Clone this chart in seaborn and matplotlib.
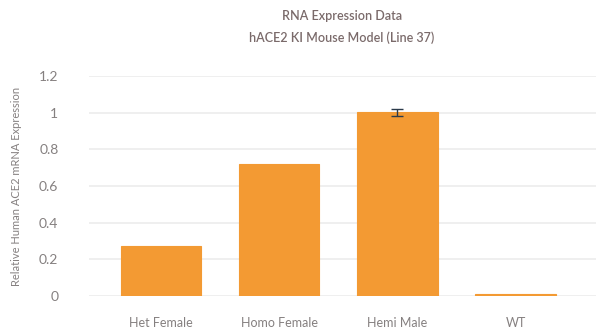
import matplotlib
matplotlib.use("Agg")
import matplotlib.pyplot as plt
import seaborn as sns
import pandas as pd

groups = ["Het Female", "Homo Female", "Hemi Male", "WT"]
expression = [0.273, 0.72, 1.003, 0.01]
error = [0.0, 0.0, 0.019, 0.0]
yticks = [0, 0.2, 0.4, 0.6, 0.8, 1.0, 1.2]
ytick_labels = ["0", "0.2", "0.4", "0.6", "0.8", "1", "1.2"]

sns.set_theme(style="white")
plt.rcParams["font.family"] = ["Lato", "DejaVu Sans"]

bar_color = "#F39A33"
text_color = "#858080"
title_color = "#7a6a6a"

df = pd.DataFrame({"group": groups, "value": expression})

fig = plt.figure(figsize=(5.97, 3.29), dpi=100)
ax = fig.add_axes([89 / 597, 33 / 329, 507 / 597, 220 / 329])

sns.barplot(data=df, x="group", y="value", color=bar_color, width=0.68,
            saturation=1, ax=ax, errorbar=None)
# outline each bar in its own colour so the near-zero WT bar stays visible
for patch in ax.patches:
    patch.set_edgecolor(bar_color)
    patch.set_linewidth(0.8)
    patch.set_zorder(3)

ax.errorbar(range(len(groups)), expression,
            yerr=[e if e > 0 else float("nan") for e in error],
            fmt="none", ecolor="#2b3a4a", elinewidth=1, capsize=4,
            capthick=1, zorder=4)

ax.set_xlim(-0.61, 3.68)
ax.set_ylim(0, 1.2)
ax.set_yticks(yticks)
ax.set_yticklabels(ytick_labels)
ax.yaxis.grid(True, color="#ececec", linewidth=1.2, zorder=0)
ax.set_axisbelow(True)
for s in ax.spines.values():
    s.set_visible(False)

ax.tick_params(axis="y", length=0, pad=22, labelsize=10, labelcolor=text_color)
ax.tick_params(axis="x", length=0, pad=15, labelsize=9, labelcolor=text_color)
ax.set_xlabel("")
ax.set_ylabel("Relative Human ACE2 mRNA Expression", fontsize=8,
              color=text_color)
ax.yaxis.set_label_coords((22 - 89) / 507, 0.5)
for lbl in ax.get_yticklabels():
    lbl.set_horizontalalignment("right")

fig.text(342 / 597, 1 - 16 / 329, "RNA Expression Data", ha="center",
         va="center", fontsize=9, color=title_color, fontweight="semibold")
fig.text(342 / 597, 1 - 38 / 329, "hACE2 KI Mouse Model (Line 37)",
         ha="center", va="center", fontsize=9, color=title_color,
         fontweight="semibold")

fig.savefig("out.png", dpi=100)
